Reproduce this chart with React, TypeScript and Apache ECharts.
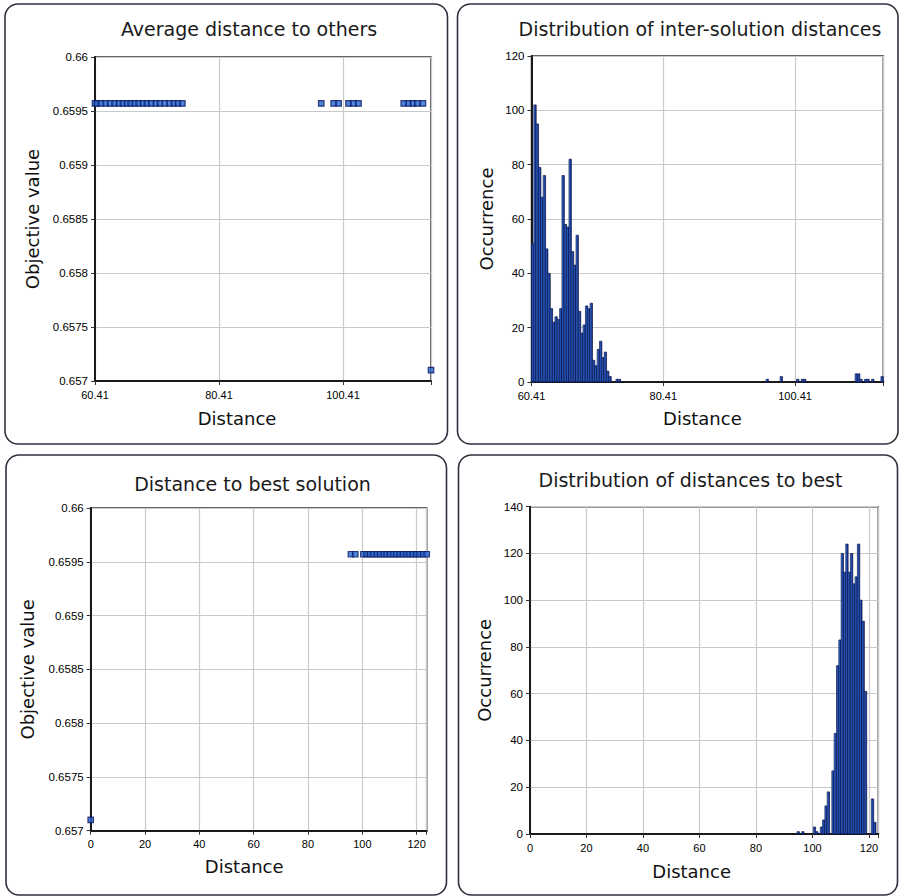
import React, { useEffect, useRef } from "react";
import * as echarts from "echarts";

// ---------- data ----------
const chartTitles = [
  "Average distance to others",
  "Distribution of inter-solution distances",
  "Distance to best solution",
  "Distribution of distances to best",
];

// panel 1: average distance to others (scatter)
const interOffset = 60.41;
const avgMaxDist = 114.6;
const avgDist = [
  60.41, 60.73, 61.42, 62.13, 62.87, 63.58, 64.28, 64.92, 65.57, 66.16, 66.81,
  67.45, 68.15, 68.79, 69.49, 70.25, 70.89, 71.65, 72.46, 73.15, 73.8, 74.5,
  96.9, 98.9, 99.7, 101.3, 102.1, 102.9, 110.2, 111.0, 111.7, 112.4, 113.3, 114.6,
];
const avgObj = [
  0.65957, 0.65957, 0.65957, 0.65957, 0.65957, 0.65957, 0.65957, 0.65957, 0.65957,
  0.65957, 0.65957, 0.65957, 0.65957, 0.65957, 0.65957, 0.65957, 0.65957, 0.65957,
  0.65957, 0.65957, 0.65957, 0.65957, 0.65957, 0.65957, 0.65957, 0.65957, 0.65957,
  0.65957, 0.65957, 0.65957, 0.65957, 0.65957, 0.65957, 0.6571,
];

// panel 2: histogram of inter-solution distances (150 bins)
const interHistMax = 113.8;
const binCount = 150;
const interBins = [
  0, 1, 2, 3, 4, 5, 6, 7, 8, 9, 10, 11, 12, 13, 14, 15, 16, 17, 18, 19, 20, 21,
  22, 23, 24, 25, 26, 27, 28, 29, 30, 31, 32, 33, 36, 37, 100, 106, 113, 115, 116,
  138, 139, 140, 142, 143, 145, 149,
];
const interCounts = [
  51, 102, 95, 79, 68, 76, 49, 40, 27, 22, 24, 23, 27, 76, 58, 57, 82, 48, 43, 54,
  26, 18, 21, 28, 27, 29, 8, 6, 12, 15, 9, 11, 4, 2, 1, 1, 1, 2, 1, 1, 1, 3, 3, 1,
  1, 1, 1, 2,
];

// panel 3: distance to best solution (scatter)
const bestMaxDist = 123.7;
const bestDist = [
  0, 95.8, 97.4, 100.4, 101.6, 102.9, 104.1, 105.4, 106.6, 107.9, 109.0, 110.2,
  111.5, 112.6, 113.8, 115.0, 116.3, 117.4, 118.6, 119.9, 121.1, 122.4, 123.7,
];
const bestObj = [
  0.6571, 0.65957, 0.65957, 0.65957, 0.65957, 0.65957, 0.65957, 0.65957, 0.65957,
  0.65957, 0.65957, 0.65957, 0.65957, 0.65957, 0.65957, 0.65957, 0.65957, 0.65957,
  0.65957, 0.65957, 0.65957, 0.65957, 0.65957,
];

// panel 4: histogram of distances to best (150 bins)
const bestHistMax = 123.3;
const bestBins = [
  115, 117, 122, 123, 125, 126, 127, 128, 130, 131, 132, 133, 134, 135, 136, 137,
  138, 139, 140, 141, 142, 143, 144, 147, 148,
];
const bestCounts = [
  1, 1, 3, 1, 3, 6, 12, 18, 27, 43, 72, 83, 120, 112, 124, 112, 120, 107, 110,
  124, 100, 91, 61, 15, 5,
];

const objTicks = { min: 0.657, max: 0.66, interval: 0.0005 };

// ---------- styling helpers ----------
const NAME_FONT = "DejaVu Sans";
const LABEL_FONT = "Liberation Sans";

function App() {
  const ref = useRef<HTMLDivElement>(null);

  useEffect(() => {
    if (!ref.current) return;
    const chart = echarts.init(ref.current, null, { renderer: "svg" });

    const barFill = new echarts.graphic.LinearGradient(0, 0, 1, 0, [
      { offset: 0, color: "#4aa0ea" },
      { offset: 0.4, color: "#2050b8" },
      { offset: 1, color: "#111f72" },
    ]);

    const histRender = (params: any, api: any) => {
      const x0 = api.value(0);
      const x1 = api.value(1);
      const c = api.value(2);
      const p0 = api.coord([x0, c]);
      const p1 = api.coord([x1, 0]);
      return {
        type: "rect",
        shape: { x: p0[0], y: p0[1], width: p1[0] - p0[0], height: p1[1] - p0[1] },
        style: { fill: barFill, stroke: "#0a114a", lineWidth: 0.7 },
      };
    };

    const interBinW = (interHistMax - interOffset) / binCount;
    const interData = interBins.map((b, i) => [
      b * interBinW,
      (b + 1) * interBinW,
      interCounts[i],
    ]);
    const bestBinW = bestHistMax / binCount;
    const bestData = bestBins.map((b, i) => [b * bestBinW, (b + 1) * bestBinW, bestCounts[i]]);

    const avgData = avgDist.map((d, i) => [d - interOffset, avgObj[i]]);
    const bestScatter = bestDist.map((d, i) => [d, bestObj[i]]);

    const grids = [
      { left: 95, top: 57, width: 336, height: 324 },
      { left: 531.5, top: 56, width: 351.8, height: 326 },
      { left: 90.7, top: 508, width: 336, height: 322.7 },
      { left: 530, top: 506.7, width: 348.3, height: 327.3 },
    ].map((g) => ({
      ...g,
      show: true,
      borderColor: "#333",
      borderWidth: 1.5,
      backgroundColor: "transparent",
    }));

    const commonAxis = {
      axisLine: { show: true, onZero: false, lineStyle: { color: "#1a1a1a", width: 2 } },
      axisTick: { show: true, length: 4, lineStyle: { color: "#333", width: 1 } },
      splitLine: { show: true, lineStyle: { color: "#c9c9c9", width: 1.2 } },
      nameTextStyle: { fontFamily: NAME_FONT, fontSize: 18, color: "#111" },
    };

    const xLabel = (fmt: (v: number) => string) => ({
      fontFamily: LABEL_FONT,
      fontSize: 11,
      color: "#000",
      margin: 8,
      formatter: fmt,
    });
    const yLabel = {
      fontFamily: LABEL_FONT,
      fontSize: 11.5,
      color: "#000",
      margin: 7,
    };

    const offFmt = (v: number) =>
      Math.abs(v % 20) < 1e-6 ? (v + interOffset).toFixed(2) : "";
    const intFmt = (v: number) => (Math.abs(v % 20) < 1e-6 ? String(v) : "");

    const xAxes = [
      { gridIndex: 0, min: 0, max: avgMaxDist - interOffset, fmt: offFmt, pad: 52, gap: 28 },
      { gridIndex: 1, min: 0, max: interHistMax - interOffset, fmt: offFmt, pad: 10, gap: 27 },
      { gridIndex: 2, min: 0, max: bestMaxDist, fmt: intFmt, pad: 29, gap: 27 },
      { gridIndex: 3, min: 0, max: bestHistMax, fmt: intFmt, pad: 25, gap: 28 },
    ].map((a) => ({
      type: "value",
      gridIndex: a.gridIndex,
      min: a.min,
      max: a.max,
      interval: 20,
      name: "Distance",
      nameLocation: "middle",
      nameGap: a.gap,
      ...commonAxis,
      nameTextStyle: { ...commonAxis.nameTextStyle, padding: [0, a.pad, 0, 0] },
      axisLabel: xLabel(a.fmt),
    }));

    const yAxes = [
      { gridIndex: 0, ...objTicks, name: "Objective value", gap: 54 },
      { gridIndex: 1, min: 0, max: 120, interval: 20, name: "Occurrence", gap: 36 },
      { gridIndex: 2, ...objTicks, name: "Objective value", gap: 54 },
      { gridIndex: 3, min: 0, max: 140, interval: 20, name: "Occurrence", gap: 37 },
    ].map((a) => ({
      type: "value",
      gridIndex: a.gridIndex,
      min: a.min,
      max: a.max,
      interval: a.interval,
      name: a.name,
      nameLocation: "middle",
      nameGap: a.gap,
      nameRotate: 90,
      ...commonAxis,
      axisLabel: yLabel,
    }));

    const titlePos = [
      { x: 249, y: 19 },
      { x: 700, y: 19 },
      { x: 252.5, y: 474.5 },
      { x: 690.5, y: 470.5 },
    ];

    const cards = [
      { x: 5, y: 4, w: 442.5, h: 440 },
      { x: 457.5, y: 4, w: 440.5, h: 440 },
      { x: 6, y: 455, w: 440.5, h: 440 },
      { x: 458.5, y: 455, w: 439, h: 440 },
    ];

    const scatterStyle = {
      symbol: "rect",
      symbolSize: 5.5,
      clip: false,
      itemStyle: { color: "#2466d0", borderColor: "#0a1560", borderWidth: 1.2 },
    };

    chart.setOption({
      animation: false,
      backgroundColor: "#ffffff",
      title: chartTitles.map((t, i) => ({
        text: t,
        left: titlePos[i].x,
        top: titlePos[i].y,
        textAlign: "center",
        padding: 0,
        textStyle: {
          fontFamily: NAME_FONT,
          fontSize: 19,
          fontWeight: "normal",
          color: "#1a1a1a",
        },
      })),
      graphic: {
        elements: cards.map((c) => ({
          type: "rect",
          z: -1,
          silent: true,
          shape: { x: c.x, y: c.y, width: c.w, height: c.h, r: 13 },
          style: { fill: "none", stroke: "#2e323c", lineWidth: 1.6 },
        })),
      },
      grid: grids,
      xAxis: xAxes,
      yAxis: yAxes,
      series: [
        {
          type: "scatter",
          xAxisIndex: 0,
          yAxisIndex: 0,
          data: avgData,
          ...scatterStyle,
        },
        {
          type: "custom",
          xAxisIndex: 1,
          yAxisIndex: 1,
          data: interData,
          encode: { x: [0, 1], y: 2 },
          renderItem: histRender,
          clip: false,
        },
        {
          type: "scatter",
          xAxisIndex: 2,
          yAxisIndex: 2,
          data: bestScatter,
          ...scatterStyle,
        },
        {
          type: "custom",
          xAxisIndex: 3,
          yAxisIndex: 3,
          data: bestData,
          encode: { x: [0, 1], y: 2 },
          renderItem: histRender,
          clip: false,
        },
      ],
    });

    return () => chart.dispose();
  }, []);

  return (
    <div
      ref={ref}
      style={{ position: "fixed", left: 0, top: 0, width: 899, height: 896 }}
    />
  );
}

export default App;
